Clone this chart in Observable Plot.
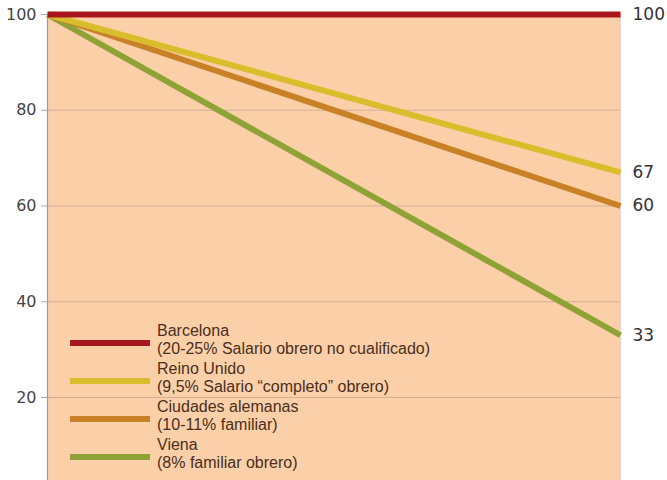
<!DOCTYPE html>
<html><head><meta charset="utf-8">
<script src="https://cdn.jsdelivr.net/npm/d3@7"></script>
<script src="https://cdn.jsdelivr.net/npm/@observablehq/plot@0.6"></script>
<style>
html,body{margin:0;padding:0;background:#fff;}
#wrap{position:relative;width:667px;height:480px;overflow:hidden;}
#legend{position:absolute;left:70px;top:322px;font-family:"Liberation Sans",Arial,sans-serif;font-size:16px;color:#4a2e20;}
.item{display:flex;align-items:flex-start;height:38px;}
.sw{width:80px;height:6px;margin-top:18px;margin-right:7px;flex:none;}
.lbl{line-height:18px;white-space:nowrap;}
</style></head>
<body><div id="wrap"><div id="legend"></div></div>
<script>
const series = ["Barcelona","Reino Unido","Ciudades alemanas","Viena"];
const subtitles = ["(20-25% Salario obrero no cualificado)","(9,5% Salario \u201ccompleto\u201d obrero)","(10-11% familiar)","(8% familiar obrero)"];
const colors = ["#a8151c","#d9bd2c","#c98128","#8ea236"];
const startValues = [100,100,100,100];
const endValues = [100,67,60,33];
const endLabels = ["100","67","60","33"];
const steps = [0,1];
const yTicks = [20,40,60,80,100];

const data = [];
series.forEach((s,i)=>{
  data.push({s, x:steps[0], v:startValues[i]});
  data.push({s, x:steps[1], v:endValues[i]});
});
const ends = series.map((s,i)=>({s, x:steps[1], v:endValues[i], label:endLabels[i]}));
const order = [3,2,1,0];

const chart = Plot.plot({
  width:667, height:480,
  marginLeft:47, marginRight:47, marginTop:14, marginBottom:0,
  style:{fontFamily:"DejaVu Sans, sans-serif", fontSize:"16px", color:"#444", background:"transparent", overflow:"visible"},
  x:{domain:[0,1], axis:null},
  y:{domain:[2.66,100], axis:null},
  color:{domain:series, range:colors},
  marks:[
    Plot.frame({fill:"#fbd0a8", stroke:null, insetTop:-2}),
    Plot.gridY([20,40,60,80], {stroke:"#b89a88", strokeOpacity:0.6, strokeWidth:1}),
    Plot.axisY(yTicks, {label:null, tickSize:6, tickPadding:5, stroke:"#aaa", fill:"#444", fontSize:16}),
    Plot.ruleX([0], {stroke:"#a09a96", strokeWidth:1.2}),
    Plot.ruleX([1], {stroke:"#d8d8d8", strokeWidth:1.2}),
    ...order.map(i => Plot.line(data.filter(d=>d.s===series[i]), {x:"x", y:"v", stroke:colors[i], strokeWidth:6, strokeLinecap:"butt"})),
    Plot.text(ends, {x:"x", y:"v", text:"label", dx:12, textAnchor:"start", fill:"#333", fontSize:17})
  ]
});
document.getElementById("wrap").prepend(chart);
chart.style.position="absolute"; chart.style.left="0"; chart.style.top="0";

const leg = document.getElementById("legend");
series.forEach((s,i)=>{
  const it = document.createElement("div"); it.className="item";
  const sw = document.createElement("div"); sw.className="sw"; sw.style.background=colors[i];
  const lb = document.createElement("div"); lb.className="lbl";
  lb.innerHTML = s + "<br>" + subtitles[i];
  it.append(sw, lb); leg.append(it);
});
</script></body></html>
